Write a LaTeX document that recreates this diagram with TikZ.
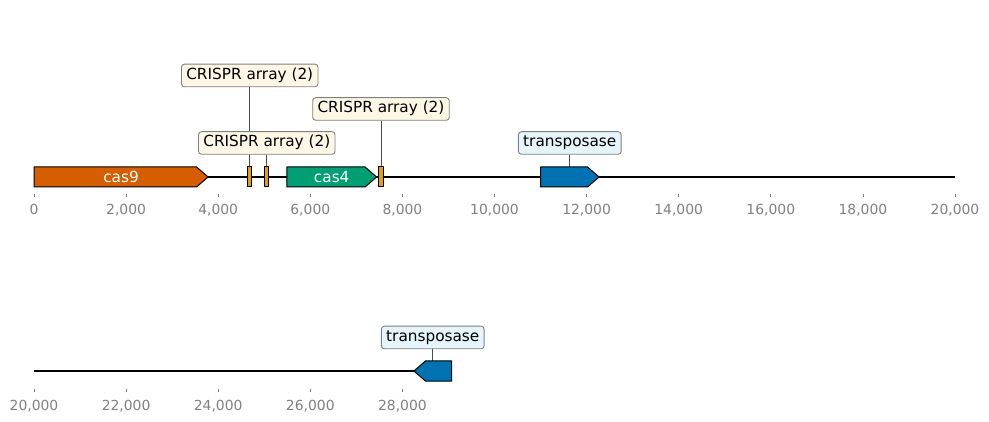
\documentclass[tikz,border=0pt]{standalone}
\usepackage{fontspec}
\setmainfont{DejaVu Sans}
\usetikzlibrary{positioning}
\definecolor{cascolnine}{HTML}{D55E00}
\definecolor{crisprcol}{HTML}{E69F00}
\definecolor{cascolfour}{HTML}{009E73}
\definecolor{tnpcol}{HTML}{0072B2}
\definecolor{crisprbg}{HTML}{FFF7E6}
\definecolor{tnpbg}{HTML}{E6F4FC}
\pgfkeys{/pgf/number format/.cd,1000 sep={,},assume math mode=true}
\begin{document}
\begin{tikzpicture}[x=1pt, y=-1pt, line join=round,
	gene/.style={draw=black, line width=1pt},
	backbone/.style={draw=black, line width=1.6pt},
	genetxt/.style={text=white, font=\fontsize{15.3}{18}\selectfont, inner sep=0pt},
	lab/.style={draw=gray, line width=0.9pt, rounded corners=3pt, font=\fontsize{15.3}{18}\selectfont,
		text height=11.2pt, text depth=3.6pt, inner xsep=4.8pt, inner ysep=3.9pt},
	crisprlab/.style={lab, fill=crisprbg},
	tnplab/.style={lab, fill=tnpbg},
	pin/.style={draw=black!70, line width=0.7pt},
	tick/.style={draw=gray, line width=0.8pt},
	ticklab/.style={text=gray, font=\fontsize{13.9}{16}\selectfont, anchor=base, inner sep=0pt}]
	\useasboundingbox (0,0) rectangle (989,422);
	% positions in kb
	\def\s{46.05} \def\xo{34}
	\def\bp#1{\xo+\s*(#1)}
	\def\bpp#1{\xo+\s*(#1-20)}
	% first row
	\draw[backbone] ({\bp{0}},177) -- ({\bp{20}},177);
	\foreach \t in {0,2,...,20}{
		\draw[tick] ({\bp{\t}},194) -- ({\bp{\t}},197.5);
		\node[ticklab] (tka\t) at ({\bp{\t}},215) {\pgfmathprintnumber{\t000}};
	}
	\coordinate (crA) at ({\bp{4.685}},167);
	\coordinate (crB) at ({\bp{5.055}},167);
	\coordinate (crC) at ({\bp{7.535}},167);
	\coordinate (tnpA) at ({\bp{11.635}},167);
	\node[crisprlab] (arrA) at ({\bp{4.685}},75.5) {CRISPR array (2)};
	\node[crisprlab] (arrC) at ({\bp{7.535}},109) {CRISPR array (2)};
	\draw[pin] (arrA.south) -- (crA);
	\draw[pin] (arrC.south) -- (crC);
	\node[crisprlab] (arrB) at ({\bp{5.055}},143) {CRISPR array (2)};
	\draw[pin] (arrB.south) -- (crB);
	\node[tnplab] (labA) at ({\bp{11.635}},143) {transposase};
	\draw[pin] (labA.south) -- (tnpA);
	\draw[gene, fill=cascolnine] ({\bp{0}},167) -- ({\bp{3.53}},167) -- ({\bp{3.78}},177)
		-- ({\bp{3.53}},187) -- ({\bp{0}},187) -- cycle;
	\node[genetxt] (cas9) at ({\bp{1.89}},177) {cas9};
	\draw[gene, fill=crisprcol] ({\bp{4.64}},167) rectangle ({\bp{4.73}},187);
	\draw[gene, fill=crisprcol] ({\bp{5.01}},167) rectangle ({\bp{5.10}},187);
	\draw[gene, fill=cascolfour] ({\bp{5.49}},167) -- ({\bp{7.19}},167) -- ({\bp{7.44}},177)
		-- ({\bp{7.19}},187) -- ({\bp{5.49}},187) -- cycle;
	\node[genetxt] (cas4) at ({\bp{6.465}},177) {cas4};
	\draw[gene, fill=crisprcol] ({\bp{7.49}},167) rectangle ({\bp{7.58}},187);
	\draw[gene, fill=tnpcol] ({\bp{11.0}},167) -- ({\bp{12.02}},167) -- ({\bp{12.27}},177)
		-- ({\bp{12.02}},187) -- ({\bp{11.0}},187) -- cycle;
	% second row
	\draw[backbone] ({\bpp{20}},371) -- ({\bpp{29}},371);
	\foreach \t in {20,22,...,28}{
		\draw[tick] ({\bpp{\t}},388.5) -- ({\bpp{\t}},392);
		\node[ticklab] (tkb\t) at ({\bpp{\t}},410) {\pgfmathprintnumber{\t000}};
	}
	\coordinate (tnpB) at ({\bpp{28.66}},361);
	\node[tnplab] (labB) at ({\bpp{28.66}},337.5) {transposase};
	\draw[pin] (labB.south) -- (tnpB);
	\draw[gene, fill=tnpcol] ({\bpp{28.25}},371) -- ({\bpp{28.5}},361) -- ({\bpp{29.07}},361)
		-- ({\bpp{29.07}},381) -- ({\bpp{28.5}},381) -- cycle;
\end{tikzpicture}
\end{document}
